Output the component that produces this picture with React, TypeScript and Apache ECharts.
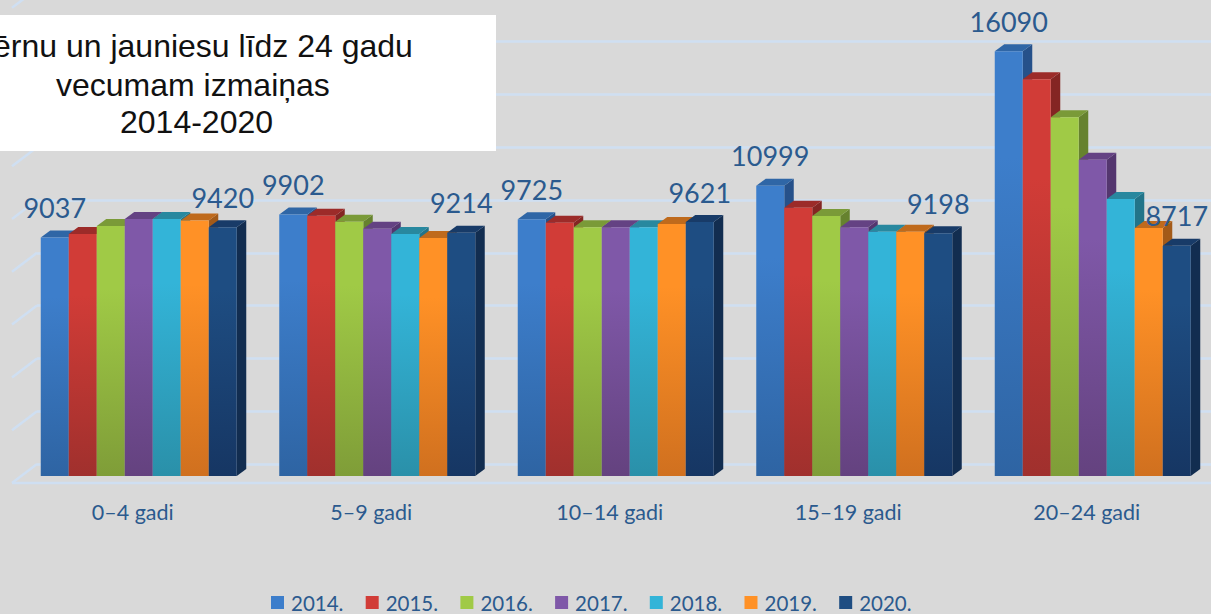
import React, { useEffect, useRef } from "react";
import * as echarts from "echarts";

const categories = ["0–4 gadi", "5–9 gadi", "10–14 gadi", "15–19 gadi", "20–24 gadi"];
const years = ["2014.", "2015.", "2016.", "2017.", "2018.", "2019.", "2020."];
const v2014 = [9037, 9902, 9725, 10999, 16090];
const v2015 = [9167, 9860, 9595, 10163, 15027];
const v2016 = [9470, 9633, 9420, 9848, 13587];
const v2017 = [9735, 9367, 9420, 9420, 11981];
const v2018 = [9735, 9167, 9420, 9254, 10492];
const v2019 = [9678, 9015, 9545, 9254, 9394];
const v2020 = [9420, 9214, 9621, 9198, 8717];
const seriesValues = [v2014, v2015, v2016, v2017, v2018, v2019, v2020];
const gridTicks = [0, 2000, 4000, 6000, 8000, 10000, 12000, 14000, 16000, 18000];
const titleLines = ["ērnu un jauniesu līdz 24 gadu", "vecumam izmaiņas", "2014-2020"];

const palette = [
  { top: "#2f66a6", side: "#26518a", a: "#3d7ecb", b: "#2e64a3" },
  { top: "#9c2b29", side: "#842523", a: "#d13c37", b: "#a0302d" },
  { top: "#7a9a38", side: "#66822e", a: "#a0ca46", b: "#7f9d38" },
  { top: "#644283", side: "#54366f", a: "#7f58a8", b: "#64427f" },
  { top: "#28889f", side: "#227489", a: "#33b4d8", b: "#2a90a9" },
  { top: "#bf6a1c", side: "#a35a18", a: "#ff9126", b: "#d0701f" },
  { top: "#183b68", side: "#122d50", a: "#1e4d82", b: "#163663" },
];

const BAR_W = 28;
const DX = 9.5;
const DY = 7;
const BAR_SHIFT = 6;
const WALL_DX = 25;
const WALL_DY = 19;
const TEXT = "#2b5a8e";
const LINE = "#cfdff2";

export default function App() {
  const ref = useRef<HTMLDivElement>(null);
  useEffect(() => {
    const chart = echarts.init(ref.current!, undefined, { renderer: "svg" });
    const barSeries = years.map((name, si) => ({
      type: "custom" as const,
      name,
      xAxisIndex: 0,
      yAxisIndex: 0,
      itemStyle: { color: palette[si].a },
      data: seriesValues[si].map((v, ci) => [ci, v]),
      renderItem: (params: any, api: any) => {
        const ci = api.value(0);
        const val = api.value(1);
        const c = api.coord([ci, val]);
        const b = api.coord([ci, 0]);
        const x = c[0] + BAR_SHIFT - (BAR_W * 7) / 2 + si * BAR_W;
        const y = c[1];
        const h = b[1] - y;
        const p = palette[si];
        const children: any[] = [
          {
            type: "polygon",
            shape: { points: [[x + BAR_W, y], [x + BAR_W + DX, y - DY], [x + BAR_W + DX, b[1] - DY], [x + BAR_W, b[1]]] },
            style: { fill: p.side },
          },
          {
            type: "polygon",
            shape: { points: [[x, y], [x + DX, y - DY], [x + BAR_W + DX, y - DY], [x + BAR_W, y]] },
            style: { fill: p.top },
          },
          {
            type: "rect",
            shape: { x, y, width: BAR_W, height: h },
            style: {
              fill: { type: "linear", x: 0, y: 0, x2: 0, y2: 1, colorStops: [{ offset: 0, color: p.a }, { offset: 0.25, color: p.a }, { offset: 1, color: p.b }] },
            },
          },
        ];
        if (si === 0 || si === years.length - 1) {
          children.push({
            type: "text",
            z2: 50,
            style: {
              x: x + BAR_W / 2,
              y: y - DY - 23,
              text: String(val),
              fill: TEXT,
              font: "27px Lato",
              align: "center",
              verticalAlign: "middle",
            },
          });
        }
        return { type: "group", children };
      },
    }));

    chart.setOption({
      animation: false,
      backgroundColor: "#d9d9d9",
      textStyle: { fontFamily: "Lato" },
      grid: [
        { left: 13.5, width: 1192.5, top: 27.2, height: 448.8 },
        { left: 37, right: 0, top: 41.6, height: 422.4 },
      ],
      xAxis: [
        {
          type: "category",
          data: categories,
          gridIndex: 0,
          axisLine: { show: false },
          axisTick: { show: false },
          axisLabel: { color: TEXT, fontSize: 21.5, fontFamily: "Lato", margin: 25 },
        },
        { type: "value", gridIndex: 1, min: 0, max: 1, show: false, splitLine: { show: false } },
      ],
      yAxis: [
        { type: "value", gridIndex: 0, min: 0, max: 17000, show: false, splitLine: { show: false } },
        {
          type: "value",
          gridIndex: 1,
          min: 0,
          max: 16000,
          interval: 2000,
          axisLine: { show: false },
          axisTick: { show: false },
          axisLabel: { show: false },
          splitLine: { show: true, lineStyle: { color: LINE, width: 2.5 } },
        },
      ],
      legend: {
        left: 266,
        top: 587,
        itemWidth: 13,
        itemHeight: 13,
        itemGap: 22.3,
        icon: "rect",
        data: years,
        selectedMode: false,
        textStyle: { color: TEXT, fontSize: 20.5, fontFamily: "Lato", padding: [0, 0, 0, 2] },
      },
      graphic: [
        { type: "rect", z: 100, shape: { x: 0, y: 15, width: 496, height: 136 }, style: { fill: "#ffffff" } },
        ...titleLines.map((t, i) => ({
          type: "text",
          z: 101,
          style: {
            x: [-7, 56, 120][i],
            y: [46, 85, 122][i],
            text: t,
            fill: "#111111",
            font: "32px 'Liberation Sans'",
            verticalAlign: "middle",
          },
        })),
      ],
      series: [
        {
          type: "custom",
          xAxisIndex: 1,
          yAxisIndex: 1,
          silent: true,
          z: 1,
          data: gridTicks.map((t) => [0, t]),
          renderItem: (params: any, api: any) => {
            const p = api.coord([0, api.value(1)]);
            const children: any[] = [
              {
                type: "line",
                shape: { x1: p[0], y1: p[1], x2: p[0] - WALL_DX, y2: p[1] + WALL_DY },
                style: { stroke: LINE, lineWidth: 2.5 },
              },
            ];
            if (api.value(1) === 0) {
              children.push({
                type: "line",
                shape: { x1: p[0] - WALL_DX, y1: p[1] + WALL_DY, x2: 1211, y2: p[1] + WALL_DY },
                style: { stroke: LINE, lineWidth: 2.5 },
              });
            }
            return { type: "group", children };
          },
        },
        ...barSeries,
      ],
    });
    return () => chart.dispose();
  }, []);
  return <div ref={ref} style={{ position: "fixed", left: 0, top: 0, width: 1211, height: 614 }} />;
}
